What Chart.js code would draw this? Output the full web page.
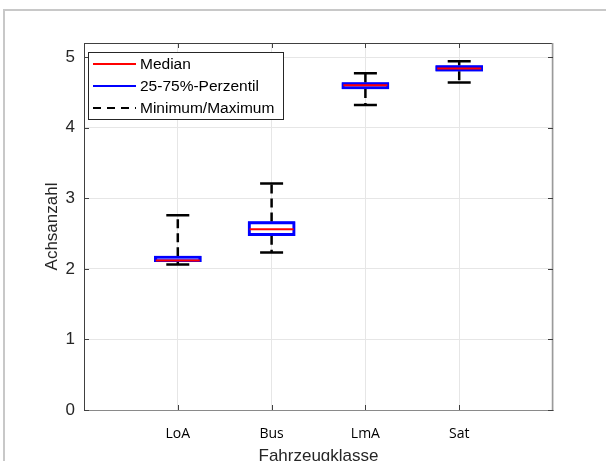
<!DOCTYPE html>
<html>
<head>
<meta charset="utf-8">
<script src="https://cdn.jsdelivr.net/npm/chart.js@4.4.0/dist/chart.umd.min.js"></script>
<style>
  html, body { margin: 0; padding: 0; background: #fff; overflow: hidden; }
  #frame { position: absolute; left: 3px; top: 9px; width: 700px; height: 500px;
           border-left: 2px solid #c8c8c8; border-top: 2px solid #c8c8c8; }
  #wrap { position: absolute; left: 0; top: 0; width: 606px; height: 467px; }
</style>
</head>
<body>
<div id="frame"></div>
<div id="wrap"><canvas id="chart"></canvas></div>
<script>
// categories (index 0 and 5 are empty padding slots)
const labels = ['', 'LoA', 'Bus', 'LmA', 'Sat', ''];
const minVals = [null, 2.06, 2.23, 4.32, 4.64, null];
const q1Vals = [null, 2.10, 2.47, 4.55, 4.80, null];
const medianVals = [null, 2.12, 2.56, 4.60, 4.84, null];
const q3Vals = [null, 2.18, 2.67, 4.64, 4.88, null];
const maxVals = [null, 2.76, 3.21, 4.77, 4.94, null];
const yTicks = [0, 1, 2, 3, 4, 5];

const axisColor = '#404040';

// whiskers, caps, medians, inner ticks and legend
const boxExtras = {
  id: 'boxExtras',
  afterDatasetsDraw(chart) {
    const ctx = chart.ctx;
    const x = chart.scales.x, y = chart.scales.y;
    const area = chart.chartArea;
    ctx.save();
    for (let i = 0; i < labels.length; i++) {
      if (medianVals[i] == null) continue;
      const cx = x.getPixelForValue(i);
      // dashed whiskers
      ctx.strokeStyle = '#000';
      ctx.lineWidth = 2.5;
      ctx.setLineDash([9, 5]);
      ctx.beginPath();
      ctx.moveTo(cx, y.getPixelForValue(q3Vals[i]));
      ctx.lineTo(cx, y.getPixelForValue(maxVals[i]));
      ctx.moveTo(cx, y.getPixelForValue(q1Vals[i]));
      ctx.lineTo(cx, y.getPixelForValue(minVals[i]));
      ctx.stroke();
      ctx.setLineDash([]);
      // caps
      ctx.beginPath();
      [minVals[i], maxVals[i]].forEach(v => {
        const py = y.getPixelForValue(v);
        ctx.moveTo(cx - 11.5, py);
        ctx.lineTo(cx + 11.5, py);
      });
      ctx.stroke();
    }
    // redraw boxes on top of whiskers
    chart.getDatasetMeta(0).data.forEach(el => el.draw(ctx, area));
    ctx.lineWidth = 2;
    ctx.strokeStyle = '#ff0000';
    for (let i = 0; i < labels.length; i++) {
      if (medianVals[i] == null) continue;
      const cx = x.getPixelForValue(i);
      const py = y.getPixelForValue(medianVals[i]);
      ctx.beginPath();
      ctx.moveTo(cx - 22, py);
      ctx.lineTo(cx + 22, py);
      ctx.stroke();
    }

    // box outline: top and right, plus inward ticks
    ctx.lineWidth = 1;
    ctx.strokeStyle = axisColor;
    ctx.beginPath();
    ctx.moveTo(area.left, area.top + 0.5);
    ctx.lineTo(area.right, area.top + 0.5);
    ctx.stroke();
    ctx.strokeStyle = '#9a9a9a';
    ctx.lineWidth = 1.5;
    ctx.beginPath();
    ctx.moveTo(area.right - 0.5, area.top);
    ctx.lineTo(area.right - 0.5, area.bottom);
    ctx.stroke();
    ctx.strokeStyle = axisColor;
    ctx.lineWidth = 1;
    ctx.beginPath();
    yTicks.forEach(v => {
      const py = Math.round(y.getPixelForValue(v)) + 0.5;
      ctx.moveTo(area.left, py); ctx.lineTo(area.left + 5, py);
      ctx.moveTo(area.right, py); ctx.lineTo(area.right - 5, py);
    });
    for (let i = 1; i < labels.length - 1; i++) {
      const px = Math.round(x.getPixelForValue(i)) + 0.5;
      ctx.moveTo(px, area.bottom); ctx.lineTo(px, area.bottom - 5);
      ctx.moveTo(px, area.top); ctx.lineTo(px, area.top + 5);
    }
    ctx.stroke();

    // legend box
    const lx = 88, ly = 52, lw = 195, lh = 67;
    ctx.fillStyle = '#fff';
    ctx.fillRect(lx, ly, lw, lh);
    ctx.strokeStyle = '#262626';
    ctx.lineWidth = 1;
    ctx.strokeRect(lx + 0.5, ly + 0.5, lw, lh);
    const items = [
      { text: 'Median', color: '#ff0000', dash: [] },
      { text: '25-75%-Perzentil', color: '#0000ff', dash: [] },
      { text: 'Minimum/Maximum', color: '#000', dash: [8, 6] }
    ];
    ctx.font = '15.5px "Liberation Sans", Arial, sans-serif';
    ctx.textBaseline = 'middle';
    items.forEach((it, k) => {
      const py = ly + 12 + k * 22;
      ctx.strokeStyle = it.color;
      ctx.lineWidth = 2;
      ctx.setLineDash(it.dash);
      ctx.beginPath();
      ctx.moveTo(93, py);
      ctx.lineTo(136, py);
      ctx.stroke();
      ctx.setLineDash([]);
      ctx.fillStyle = '#000';
      ctx.fillText(it.text, 140, py + 1);
    });
    ctx.restore();
  }
};

new Chart(document.getElementById('chart'), {
  type: 'bar',
  data: {
    labels: labels,
    datasets: [{
      label: '25-75%-Perzentil',
      data: labels.map((l, i) => q1Vals[i] == null ? null : [q1Vals[i], q3Vals[i]]),
      backgroundColor: '#ffffff',
      borderColor: '#0000ff',
      borderWidth: 3,
      borderSkipped: false,
      barThickness: 47
    }]
  },
  options: {
    responsive: true,
    maintainAspectRatio: false,
    animation: false,
    layout: { padding: { left: 42, top: 43, right: 53, bottom: 0 } },
    plugins: { legend: { display: false }, tooltip: { enabled: false } },
    scales: {
      x: {
        offset: false,
        grid: { color: '#e6e6e6', drawTicks: false, offset: false },
        border: { color: '#8a8a8a', width: 1 },
        ticks: {
          padding: 16,
          color: '#000',
          maxRotation: 0,
          autoSkip: false,
          font: { family: '"Open Sans", "Liberation Sans", sans-serif', size: 14 }
        },
        title: {
          display: true,
          text: 'Fahrzeugklasse',
          color: '#262626',
          padding: { top: 4, bottom: 0 },
          font: { family: '"Liberation Sans", Arial, sans-serif', size: 17 }
        },
        afterFit(scale) { scale.height = 57; }
      },
      y: {
        min: 0,
        max: 5.2,
        afterBuildTicks(scale) { scale.ticks = yTicks.map(v => ({ value: v })); },
        grid: { color: '#e6e6e6', drawTicks: false },
        border: { color: axisColor, width: 1 },
        ticks: {
          padding: 9,
          color: '#262626',
          font: { family: '"Liberation Sans", Arial, sans-serif', size: 17 }
        },
        title: {
          display: true,
          text: 'Achsanzahl',
          color: '#262626',
          padding: { top: 0, bottom: 2 },
          font: { family: '"Liberation Sans", Arial, sans-serif', size: 17 }
        },
        afterFit(scale) { scale.width = 42; }
      }
    }
  },
  plugins: [boxExtras]
});
</script>
</body>
</html>
